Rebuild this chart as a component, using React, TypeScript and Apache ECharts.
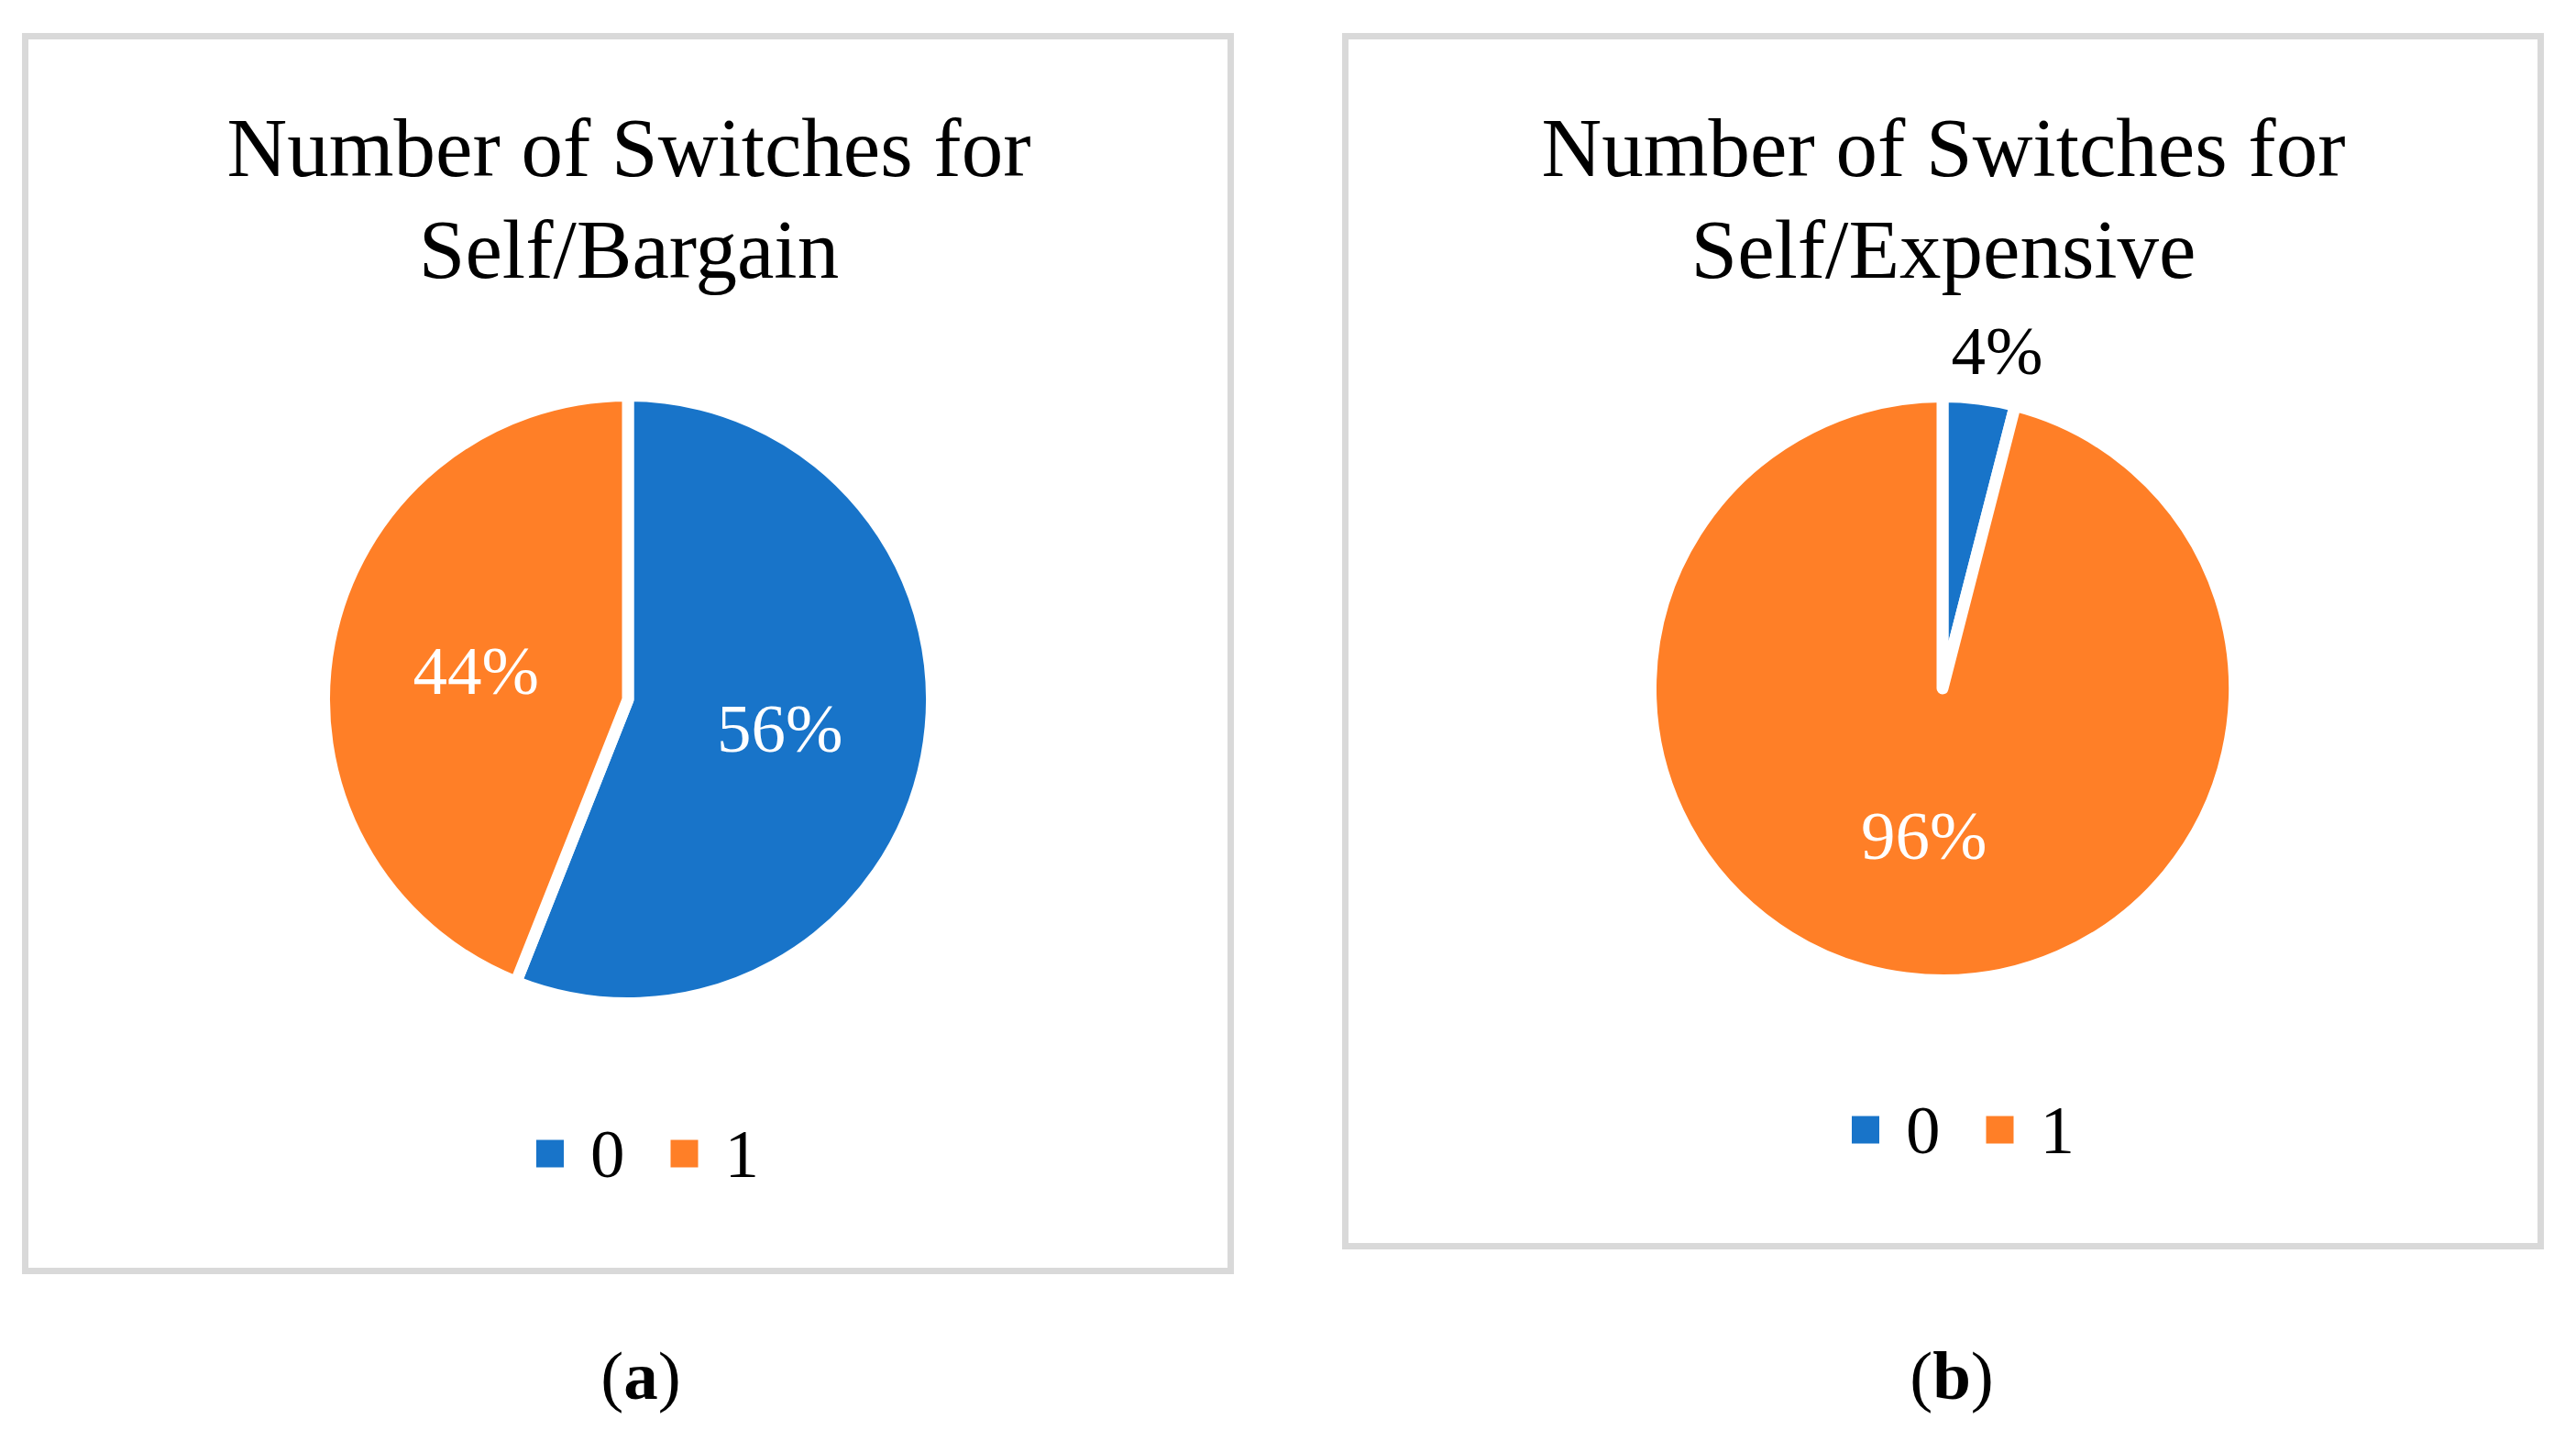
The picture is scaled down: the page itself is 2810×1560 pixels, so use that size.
import React, { useEffect, useRef } from "react";
import * as echarts from "echarts";

const categories = ["0", "1"];
const bargainValues = [56, 44];
const expensiveValues = [4, 96];
const titleTexts = [
  "Number of Switches for\nSelf/Bargain",
  "Number of Switches for\nSelf/Expensive",
];
const captionLetters = ["a", "b"];
const sliceColors = ["#1874C9", "#FF7F27"];

const FONT = "'Liberation Serif', 'Times New Roman', serif";

export default function App() {
  const ref = useRef<HTMLDivElement>(null);

  useEffect(() => {
    if (!ref.current) return;
    const chart = echarts.init(ref.current, null, { renderer: "svg" });

    const mkData = (vals: number[]) =>
      categories.map((c, i) => ({ name: c, value: vals[i] }));

    const legendBase = {
      orient: "horizontal",
      icon: "rect",
      itemWidth: 32,
      itemHeight: 32,
      itemGap: 48,
      padding: 0,
      selectedMode: false,
      data: categories,
      textStyle: {
        fontFamily: FONT,
        fontSize: 75,
        color: "#000",
        padding: [0, 0, 0, 23],
      },
    };

    const pieBase = {
      type: "pie",
      startAngle: 90,
      clockwise: true,
      avoidLabelOverlap: false,
      selectedMode: false,
      emphasis: { disabled: true },
      itemStyle: {
        borderColor: "#ffffff",
        borderWidth: 13,
        borderJoin: "round",
      },
      label: {
        show: true,
        position: "inside",
        formatter: "{d}%",
        fontFamily: FONT,
        fontSize: 75,
        color: "#ffffff",
      },
      labelLine: { show: false },
    };

    const option = {
      animation: false,
      backgroundColor: "#ffffff",
      color: sliceColors,
      legend: [
        { ...legendBase, left: 583, top: 1221 },
        { ...legendBase, left: 2018, top: 1195 },
      ],
      graphic: [
        {
          type: "rect",
          z: -10,
          shape: { x: 27.5, y: 39.5, width: 1315, height: 1347 },
          style: { fill: "none", stroke: "#D9D9D9", lineWidth: 7 },
        },
        {
          type: "rect",
          z: -10,
          shape: { x: 1467.5, y: 39.5, width: 1304, height: 1320 },
          style: { fill: "none", stroke: "#D9D9D9", lineWidth: 7 },
        },
        {
          type: "text",
          x: 686,
          y: 106,
          style: {
            text: titleTexts[0],
            fontFamily: FONT,
            fontSize: 91,
            lineHeight: 111,
            align: "center",
            verticalAlign: "top",
            fill: "#000",
          },
        },
        {
          type: "text",
          x: 2120,
          y: 106,
          style: {
            text: titleTexts[1],
            fontFamily: FONT,
            fontSize: 91,
            lineHeight: 111,
            align: "center",
            verticalAlign: "top",
            fill: "#000",
          },
        },
        ...captionLetters.map((l, i) => ({
          type: "text",
          x: i === 0 ? 699 : 2129,
          y: 1500,
          style: {
            text: "{p|(}{b|" + l + "}{p|)}",
            align: "center",
            verticalAlign: "middle",
            rich: {
              p: { fontFamily: FONT, fontSize: 75, fill: "#000", color: "#000" },
              b: {
                fontFamily: FONT,
                fontSize: 75,
                fontWeight: "bold",
                fill: "#000",
                color: "#000",
              },
            },
          },
        })),
      ],
      series: [
        {
          ...pieBase,
          name: "Self/Bargain",
          center: [685, 763],
          radius: [0, 331.5],
          data: mkData(bargainValues),
        },
        {
          ...pieBase,
          name: "Self/Expensive",
          center: [2119, 751],
          radius: [0, 318.5],
          data: mkData(expensiveValues).map((d, i) =>
            i === 0
              ? {
                  ...d,
                  label: {
                    position: "outside",
                    color: "#000000",
                    fontFamily: FONT,
                    fontSize: 75,
                  },
                }
              : d
          ),
          labelLine: { show: false, length: 53, length2: 0 },
          labelLayout: (params: any) =>
            params.dataIndex === 0 ? { dx: -42 } : {},
        },
      ],
    };

    chart.setOption(option as any);
    return () => chart.dispose();
  }, []);

  return (
    <div
      ref={ref}
      style={{ position: "absolute", left: 0, top: 0, width: 2810, height: 1560 }}
    />
  );
}
